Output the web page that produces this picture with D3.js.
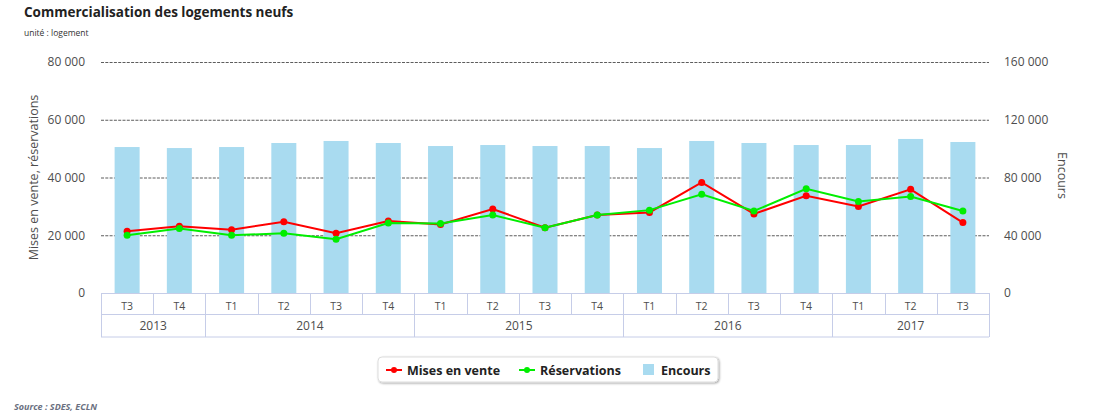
<!DOCTYPE html>
<html><head><meta charset="utf-8">
<script src="https://cdn.jsdelivr.net/npm/d3@7"></script>
<style>body{margin:0;background:#fff;font-family:"Open Sans",sans-serif;}</style>
</head><body>
<svg id="c" width="1097" height="418"></svg>
<script>
const quarters = ["T3","T4","T1","T2","T3","T4","T1","T2","T3","T4","T1","T2","T3","T4","T1","T2","T3"];
const years = [{label:"2013",n:2},{label:"2014",n:4},{label:"2015",n:4},{label:"2016",n:4},{label:"2017",n:3}];
const misesEnVente = [21400,23100,21900,24700,20700,24900,23700,29100,22600,27000,27900,38300,27400,33700,30000,35900,24400];
const reservations = [20000,22300,20000,20700,18600,24200,24100,27000,22600,27000,28700,34200,28400,36100,31700,33400,28400];
const encours = [101100,100400,101100,103900,105300,103900,101800,102500,101800,101800,100400,105300,103900,102500,102500,106700,104600];
const leftTicks = [0,20000,40000,60000,80000];
const rightTicks = [0,40000,80000,120000,160000];

const svg = d3.select("#c");
const L = 101, R = 989, T = 62, B = 293;
const x = d3.scaleBand().domain(d3.range(quarters.length)).range([L,R]).paddingInner(0).paddingOuter(0);
const yL = d3.scaleLinear().domain([0,80000]).range([B,T]);
const yR = d3.scaleLinear().domain([0,160000]).range([B,T]);
const fmt = v => d3.format(",")(v).replace(/,/g," ");
const txt = "#4d4d4d";

// title
svg.append("text").attr("x",24).attr("y",17).attr("font-size",13.5).attr("font-weight","bold").attr("fill","#222").text("Commercialisation des logements neufs");
svg.append("text").attr("x",24).attr("y",36).attr("font-size",8.5).attr("fill","#333").text("unité : logement");

// grid
const gL = svg.append("g").attr("transform",`translate(${L},0)`)
  .call(d3.axisLeft(yL).tickValues(leftTicks).tickSize(-(R-L)).tickFormat(""));
gL.select(".domain").remove();
gL.selectAll("line").attr("stroke","#333").attr("stroke-dasharray","3,1.3").attr("stroke-width",0.8)
  .filter(d=>d===0).remove();

// left labels
const al = svg.append("g").attr("transform",`translate(${L},0)`)
  .call(d3.axisLeft(yL).tickValues(leftTicks).tickSize(0).tickPadding(16).tickFormat(fmt));
al.select(".domain").remove();
al.selectAll("text").attr("font-size",12).attr("fill",txt).attr("font-family","Open Sans");
const ar = svg.append("g").attr("transform",`translate(${R},0)`)
  .call(d3.axisRight(yR).tickValues(rightTicks).tickSize(0).tickPadding(15).tickFormat(fmt));
ar.select(".domain").remove();
ar.selectAll("text").attr("font-size",12).attr("fill",txt).attr("font-family","Open Sans");

svg.append("text").attr("transform",`translate(38,${(T+B)/2}) rotate(-90)`).attr("text-anchor","middle")
  .attr("font-size",12.5).attr("fill",txt).text("Mises en vente, réservations");
svg.append("text").attr("transform",`translate(1058,${(T+B)/2-2}) rotate(90)`).attr("text-anchor","middle")
  .attr("font-size",12.5).attr("fill",txt).text("Encours");

// bars
const bw = 25;
svg.append("g").selectAll("rect").data(encours).join("rect")
  .attr("x",(d,i)=>x(i)+x.bandwidth()/2-bw/2).attr("width",bw)
  .attr("y",d=>yR(d)).attr("height",d=>B-yR(d)).attr("fill","#a9dbf0");

// lines
function series(data,color){
  const g = svg.append("g");
  g.append("path").datum(data).attr("fill","none").attr("stroke",color).attr("stroke-width",2)
    .attr("d",d3.line().x((d,i)=>x(i)+x.bandwidth()/2).y(d=>yL(d)));
  g.selectAll("circle").data(data).join("circle").attr("cx",(d,i)=>x(i)+x.bandwidth()/2).attr("cy",d=>yL(d))
    .attr("r",3.5).attr("fill",color);
}
series(misesEnVente,"#ff0000");
series(reservations,"#00ee00");

// category table
const tc = "#c6cde8";
const row1 = 314.5, row2 = 337;
const tb = svg.append("g").attr("stroke",tc).attr("stroke-width",1);
tb.append("line").attr("x1",L).attr("x2",R).attr("y1",B+0.5).attr("y2",B+0.5);
tb.append("line").attr("x1",L).attr("x2",R).attr("y1",row1).attr("y2",row1);
tb.append("line").attr("x1",L).attr("x2",R).attr("y1",row2).attr("y2",row2);
quarters.forEach((q,i)=>{
  const xx = Math.round(x(i))+0.5;
  tb.append("line").attr("x1",xx).attr("x2",xx).attr("y1",B).attr("y2",row1);
});
let acc = 0;
const yb = [0];
years.forEach(y=>{acc+=y.n; yb.push(acc);});
yb.forEach(k=>{
  const xx = k===quarters.length ? R+0.5 : Math.round(x(k))+0.5;
  tb.append("line").attr("x1",xx).attr("x2",xx).attr("y1",B).attr("y2",row2);
});
svg.append("g").selectAll("text").data(quarters).join("text")
  .attr("x",(d,i)=>x(i)+x.bandwidth()/2).attr("y",310).attr("text-anchor","middle")
  .attr("font-size",10.5).attr("fill",txt).text(d=>d);
svg.append("g").selectAll("text").data(years).join("text")
  .attr("x",(d,i)=>{const a=x(yb[i]); const b=yb[i+1]===quarters.length?R:x(yb[i+1]); return (a+b)/2;})
  .attr("y",330).attr("text-anchor","middle").attr("font-size",12).attr("fill",txt).text(d=>d.label);

// legend
const defs = svg.append("defs");
const f = defs.append("filter").attr("id","sh").attr("x","-10%").attr("y","-30%").attr("width","120%").attr("height","180%");
f.append("feDropShadow").attr("dx",1).attr("dy",1).attr("stdDeviation",1.2).attr("flood-color","#000").attr("flood-opacity",0.35);
svg.append("rect").attr("x",378).attr("y",357).attr("width",340).attr("height",25).attr("rx",4)
  .attr("fill","#fff").attr("stroke","#ddd").attr("filter","url(#sh)");
const lg = svg.append("g").attr("font-size",12.5).attr("font-weight","bold").attr("fill","#222");
[["Mises en vente","#ff0000",386],["Réservations","#00ee00",519]].forEach(([t,c,x0])=>{
  lg.append("line").attr("x1",x0).attr("x2",x0+16).attr("y1",370).attr("y2",370).attr("stroke",c).attr("stroke-width",2);
  lg.append("circle").attr("cx",x0+8).attr("cy",370).attr("r",3).attr("fill",c);
  lg.append("text").attr("x",x0+21).attr("y",374.5).text(t);
});
lg.append("rect").attr("x",643).attr("y",364).attr("width",11).attr("height",11).attr("fill","#a9dbf0");
lg.append("text").attr("x",661).attr("y",374.5).text("Encours");

svg.append("text").attr("x",14).attr("y",410).attr("font-size",9).attr("font-style","italic").attr("font-weight","bold").attr("fill","#6a7080").text("Source : SDES, ECLN");
</script>
</body></html>
